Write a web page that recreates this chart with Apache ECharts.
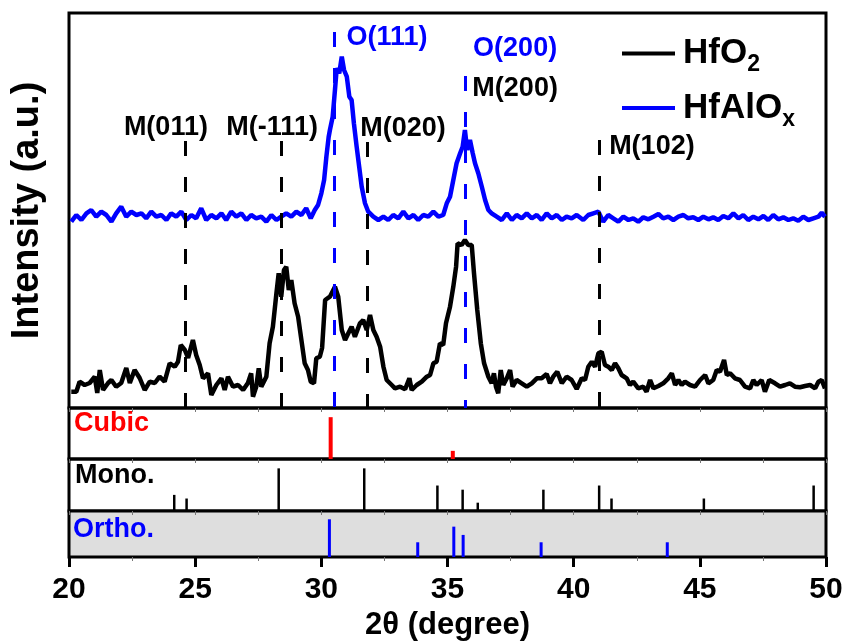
<!DOCTYPE html>
<html>
<head>
<meta charset="utf-8">
<script src="https://cdn.jsdelivr.net/npm/echarts@6/dist/echarts.min.js"></script>
<style>
  html, body { margin: 0; padding: 0; background: #fff; }
  #chart { width: 846px; height: 642px; }
</style>
</head>
<body>
<div id="chart"></div>
<script>
// XRD patterns, [2theta (deg), intensity (a.u.)]
const hfo2Data = [
  [20.09,16.3],[20.29,16.3],[20.42,26.3],[20.62,23],[20.82,25],[21.02,31.3],[21.12,15],[21.22,38],[21.35,18],
  [21.55,25],[21.68,28],[21.87,21.3],[22.07,25],[22.27,40],[22.41,25],[22.60,38],[22.80,30],[23.00,18],
  [23.20,26.3],[23.40,25],[23.59,31.3],[23.79,26.3],[23.99,44.7],[24.19,41.3],[24.32,46.3],[24.43,63],
  [24.59,58],[24.72,50],[24.91,68],[25.04,53],[25.18,43],[25.31,29.7],[25.51,34.7],[25.64,13],[25.84,23],
  [26.04,29.7],[26.17,18],[26.30,31.3],[26.50,21.3],[26.70,23],[26.90,18],[27.09,25],[27.22,34.7],[27.29,11.3],
  [27.42,21.3],[27.52,39.7],[27.62,21.3],[27.82,31.3],[27.95,64.7],[28.08,81.3],[28.22,114.7],[28.31,134.7],
  [28.41,111.3],[28.52,138],[28.61,141.3],[28.71,118],[28.81,128],[28.94,104.7],[29.08,91.3],[29.21,68],
  [29.34,44.7],[29.47,38],[29.58,26.3],[29.71,24.7],[29.80,49.7],[29.94,51.3],[30.03,60],[30.15,108],
  [30.34,111.3],[30.54,121.3],[30.67,111.3],[30.81,78],[30.94,68],[31.07,74.7],[31.20,81.3],[31.33,71.3],
  [31.53,84.7],[31.66,88],[31.80,78],[31.93,93],[32.06,78],[32.19,71.3],[32.33,61.3],[32.46,41.3],[32.59,28],
  [32.79,23],[32.92,19.7],[33.12,21.3],[33.32,18.7],[33.49,29.7],[33.58,18],[33.78,23],[33.98,26.3],
  [34.18,31.3],[34.31,33],[34.44,44.7],[34.57,46.3],[34.70,64.7],[34.83,63],[34.94,84.7],[35.10,101.3],
  [35.23,121.3],[35.34,141.3],[35.40,164.7],[35.56,163],[35.69,168],[35.82,163],[35.96,163],[36.05,134.7],
  [36.18,98],[36.32,64.7],[36.45,44.7],[36.62,31.3],[36.75,24.7],[36.84,34.7],[36.92,21.3],[37.01,14.7],
  [37.11,38],[37.21,23],[37.35,29.7],[37.48,38],[37.58,21.3],[37.74,28],[37.94,24.7],[38.14,21.3],[38.34,24.7],
  [38.54,29.7],[38.73,29.7],[38.93,34],[39.06,24.7],[39.19,31.3],[39.35,36.3],[39.53,24.7],[39.72,31.3],
  [39.92,28],[40.12,19],[40.32,29.7],[40.45,28],[40.58,41.3],[40.72,46.3],[40.85,41.3],[40.98,54.7],
  [41.11,56.3],[41.24,43],[41.37,41.3],[41.51,38],[41.64,44.7],[41.77,39.7],[41.90,33],[42.10,29.7],[42.23,23],
  [42.36,26.3],[42.56,19.7],[42.76,21.3],[42.89,16.3],[43.03,28],[43.16,19.7],[43.36,22],[43.55,24.7],
  [43.75,29.7],[43.89,34.7],[44.02,23],[44.15,28],[44.28,23],[44.41,26.3],[44.61,23],[44.81,21.3],[45.01,28],
  [45.21,33],[45.34,24.7],[45.53,28],[45.67,38],[45.80,36.3],[45.96,48],[46.07,33],[46.20,34.7],[46.39,29.7],
  [46.59,28],[46.79,21.3],[46.99,19.7],[47.12,28],[47.25,23],[47.45,28],[47.58,16.3],[47.75,28],[47.98,24.7],
  [48.18,21.3],[48.38,23],[48.57,24.7],[48.77,21.3],[48.97,20.7],[49.17,22],[49.37,23],[49.57,19.7],
  [49.70,26.3],[49.83,28],[49.96,19.7]
];
const hfalo_xData = [
  [20.09,186.3],[20.29,193],[20.49,188],[20.69,194.7],[20.88,198],[21.08,191.3],[21.28,196.3],[21.48,193],
  [21.68,186.3],[21.87,194.7],[22.07,201.3],[22.27,191.3],[22.47,196.3],[22.67,193],[22.87,194.7],[23.06,189.7],
  [23.26,196.3],[23.46,191.3],[23.66,193],[23.86,188],[24.05,194.7],[24.25,191.3],[24.45,196.3],[24.65,188],
  [24.85,193],[25.04,189.7],[25.24,199.7],[25.44,188],[25.64,193],[25.84,189.7],[26.04,194.7],[26.23,188],
  [26.43,196.3],[26.63,191.3],[26.83,194.7],[27.03,188],[27.22,193],[27.42,189.7],[27.62,191.3],[27.82,186.3],
  [28.02,193],[28.22,188],[28.41,191.3],[28.61,194.7],[28.81,191.3],[29.01,196.3],[29.21,193],[29.40,199.7],
  [29.58,189.7],[29.74,198],[29.87,203],[30.00,214.7],[30.11,228],[30.20,251.3],[30.29,271],[30.34,278],
  [30.45,291.3],[30.54,318],[30.61,339.7],[30.71,334.7],[30.81,351.3],[30.90,338],[31.01,331.3],[31.11,311.3],
  [31.20,308],[31.29,284.7],[31.40,261.3],[31.50,241.3],[31.60,221.3],[31.73,204.7],[31.86,196.3],[32.06,191.3],
  [32.26,188],[32.46,191.3],[32.65,188],[32.85,193],[33.05,189.7],[33.25,196.3],[33.45,189.7],[33.65,193],
  [33.84,188],[34.04,193],[34.24,191.3],[34.44,196.3],[34.64,191.3],[34.83,193],[34.97,204.7],[35.10,211.3],
  [35.23,228],[35.36,244.7],[35.50,254.7],[35.60,261.3],[35.69,278],[35.78,258],[35.89,268],[36.00,254.7],
  [36.09,244.7],[36.22,234.7],[36.36,221.3],[36.49,208],[36.62,198],[36.75,194.7],[36.95,191.3],[37.15,188],
  [37.35,194.7],[37.55,188],[37.74,193],[37.94,189.7],[38.14,194.7],[38.34,189.7],[38.54,193],[38.73,188],
  [38.93,194.7],[39.13,189.7],[39.33,193],[39.53,188],[39.72,191.3],[39.92,189.7],[40.12,193],[40.38,188],
  [40.58,193],[40.78,194.7],[40.98,196.3],[41.17,186.3],[41.37,193],[41.57,189.7],[41.77,186.3],[41.97,191.3],
  [42.17,188],[42.36,189.7],[42.56,186.3],[42.76,190.7],[42.96,188.7],[43.16,191.3],[43.36,194],[43.55,189.7],
  [43.75,191.3],[43.95,188],[44.15,191.3],[44.35,193],[44.54,189.7],[44.74,190.7],[44.94,188],[45.14,191.3],
  [45.34,188.7],[45.53,190.7],[45.73,188],[45.93,192],[46.13,189.7],[46.33,194.7],[46.53,189.7],[46.72,193],
  [46.92,188],[47.12,191.3],[47.32,188.7],[47.52,192],[47.71,188],[47.91,193],[48.11,188.7],[48.31,190.7],
  [48.51,188],[48.70,189.7],[48.90,187.3],[49.10,191.3],[49.30,188],[49.50,189.7],[49.70,191.3],[49.83,195.3],
  [49.96,191.3]
];

// reference patterns (relative intensity, %)
const cubicSticks = [[30.37, 82], [35.21, 16]];
const monoSticks = [
  [24.17, 31], [24.66, 24], [28.31, 82], [31.70, 82], [34.60, 49], [35.60, 41], [36.20, 16],
  [38.80, 41], [41.01, 49], [41.50, 24], [45.16, 24], [49.51, 49]
];
const orthoSticks = [[30.32, 82], [33.82, 32], [35.25, 66], [35.62, 48], [38.71, 32], [43.71, 32]];

// dashed guide lines: [2theta, top of line]
const monoGuides = [[24.6, 267], [28.4, 267], [31.8, 266], [41.0, 268]];
const orthoGuides = [[30.5, 376], [35.7, 332]];

// peak labels: [2theta, intensity, text]
const monoLabels = [[23.84, 280, 'M(011)'], [28.05, 280, 'M(-111)'], [33.24, 279, 'M(020)'],
  [37.68, 319, 'M(200)'], [43.10, 261, 'M(102)']];
const orthoLabels = [[32.6, 370, 'O(111)'], [37.68, 359, 'O(200)']];

const xTicks = [20, 25, 30, 35, 40, 45, 50];

const FONT = 'Liberation Sans, Arial, sans-serif';
const BLUE = '#0000ff';
const RED = '#ff0000';

const chart = echarts.init(document.getElementById('chart'), null, { renderer: 'canvas' });

const gridBox = { show: true, borderColor: '#000', borderWidth: 3, left: 69, right: 20 };
const grids = [
  Object.assign({ top: 13, height: 395 }, gridBox),
  Object.assign({ top: 408, height: 51 }, gridBox),
  Object.assign({ top: 459, height: 52 }, gridBox),
  Object.assign({ top: 511, height: 50, backgroundColor: '#dedede' }, gridBox)
];

function innerTicks(gridIndex) {
  return {
    type: 'value', gridIndex: gridIndex, position: 'top', min: 20, max: 50, interval: 2.5,
    axisLine: { show: false },
    axisTick: { show: true, inside: true, length: 4, lineStyle: { color: '#777', width: 1 } },
    axisLabel: { show: false }, splitLine: { show: false }
  };
}

function hiddenY(gridIndex, max) {
  return {
    type: 'value', gridIndex: gridIndex, min: 0, max: max,
    axisLine: { show: false }, axisTick: { show: false },
    axisLabel: { show: false }, splitLine: { show: false }
  };
}

function guideLines(list, color) {
  return {
    silent: true, symbol: ['none', 'none'],
    label: { show: false },
    lineStyle: { color: color, width: 3, type: [15, 21] },
    data: list.map(g => [{ coord: [g[0], g[1]] }, { coord: [g[0], 0] }])
  };
}

function labelSeries(list, color) {
  return {
    type: 'scatter', xAxisIndex: 0, yAxisIndex: 0, symbolSize: 1, silent: true,
    itemStyle: { color: 'rgba(0,0,0,0)', opacity: 1 },
    label: {
      show: true, position: 'inside', formatter: '{b}', color: color, opacity: 1,
      fontFamily: FONT, fontWeight: 'bold', fontSize: 27
    },
    data: list.map(d => ({ name: d[2], value: [d[0], d[1]] }))
  };
}

function stickSeries(idx, data, color, width) {
  return {
    type: 'bar', xAxisIndex: idx, yAxisIndex: idx, barWidth: width, silent: true,
    itemStyle: { color: color }, data: data
  };
}

const bottomAxis = {
  type: 'value', gridIndex: 3, position: 'bottom', min: 20, max: 50, interval: 5,
  axisLine: { show: false },
  axisTick: { show: true, length: 10, lineStyle: { color: '#000', width: 3 } },
  axisLabel: {
    margin: 18, color: '#000', fontFamily: FONT, fontWeight: 'bold', fontSize: 30,
    customValues: xTicks
  },
  splitLine: { show: false },
  name: '2θ (degree)', nameLocation: 'middle', nameGap: 53,
  nameTextStyle: { color: '#000', fontFamily: FONT, fontWeight: 'bold', fontSize: 31 }
};

const mainY = hiddenY(0, 395);
mainY.name = 'Intensity (a.u.)';
mainY.nameLocation = 'middle';
mainY.nameGap = 22;
mainY.nameTextStyle = { color: '#000', fontFamily: FONT, fontWeight: 'bold', fontSize: 38 };

const option = {
  animation: false,
  backgroundColor: '#fff',
  grid: grids,
  xAxis: [innerTicks(0), innerTicks(1), innerTicks(2), innerTicks(3), bottomAxis],
  yAxis: [mainY, hiddenY(1, 100), hiddenY(2, 100), hiddenY(3, 100)],
  legend: {
    orient: 'vertical', left: 617, top: 31, itemWidth: 53, itemHeight: 4, itemGap: 14,
    data: [{ name: 'HfO2', icon: 'rect' }, { name: 'HfAlOx', icon: 'rect' }],
    formatter: name => name === 'HfO2' ? '{m|HfO}{s|2}' : '{m|HfAlO}{s|x}',
    textStyle: {
      rich: {
        m: { fontFamily: FONT, fontWeight: 'bold', fontSize: 35, color: '#000', lineHeight: 42, padding: [0, 0, 0, 3] },
        s: { fontFamily: FONT, fontWeight: 'bold', fontSize: 23, color: '#000', lineHeight: 46, verticalAlign: 'bottom' }
      }
    }
  },
  graphic: [
    { type: 'text', left: 74, top: 410, style: { text: 'Cubic', fill: RED, font: 'bold 27px ' + FONT } },
    { type: 'text', left: 75, top: 462, style: { text: 'Mono.', fill: '#000', font: 'bold 27px ' + FONT } },
    { type: 'text', left: 73, top: 516, style: { text: 'Ortho.', fill: BLUE, font: 'bold 27px ' + FONT } }
  ],
  series: [
    {
      name: 'HfO2', type: 'line', xAxisIndex: 0, yAxisIndex: 0, data: hfo2Data,
      showSymbol: false, color: '#000', lineStyle: { width: 4.5, color: '#000' },
      markLine: guideLines(monoGuides, '#000'), z: 3
    },
    {
      name: 'HfAlOx', type: 'line', xAxisIndex: 0, yAxisIndex: 0, data: hfalo_xData,
      showSymbol: false, color: BLUE, lineStyle: { width: 4.5, color: BLUE },
      markLine: guideLines(orthoGuides, BLUE), z: 3
    },
    labelSeries(monoLabels, '#000'),
    labelSeries(orthoLabels, BLUE),
    stickSeries(1, cubicSticks, RED, 4),
    stickSeries(2, monoSticks, '#000', 2.5),
    stickSeries(3, orthoSticks, BLUE, 3)
  ]
};

chart.setOption(option);
</script>
</body>
</html>
